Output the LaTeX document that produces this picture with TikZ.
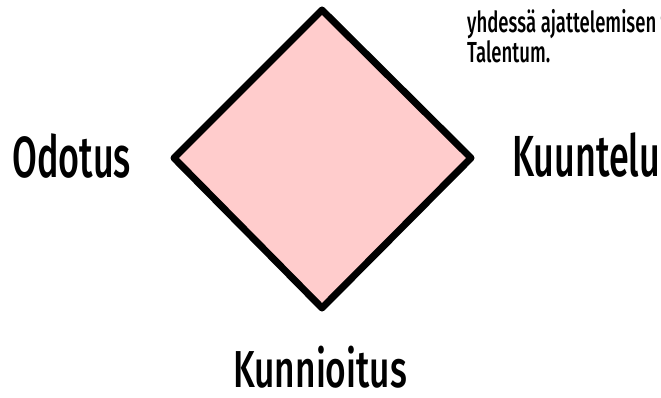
\documentclass[tikz,border=0pt]{standalone}
\usepackage{fontspec}
\setmainfont[FakeStretch=0.62]{Fira Sans Medium}
\newfontfamily\notefont[FakeStretch=0.64]{Fira Sans Medium}
\newfontfamily\lowfont[FakeStretch=0.68]{Fira Sans Medium}
\usetikzlibrary{positioning}
\definecolor{rombus}{RGB}{255,204,204}

\begin{document}
\begin{tikzpicture}[
    x=1pt, y=-1pt,
    big/.style={font=\fontsize{58}{58}\selectfont, inner sep=0pt, text depth=0pt, anchor=base west},
    low/.style={font=\lowfont\fontsize{52}{52}\selectfont, inner sep=0pt, text depth=0pt, anchor=base west},
    note/.style={font=\notefont\fontsize{29}{30}\selectfont, inner sep=0pt, anchor=base west}
  ]
  \useasboundingbox (0,0) rectangle (661,398);
  \clip (0,0) rectangle (661,398);
  % corners of the diamond
  \coordinate (top) at (322,10);
  \coordinate (right) at (471,158);
  \coordinate (bottom) at (322,308);
  \coordinate (left) at (174,158);
  \draw[line width=7pt, line join=round, fill=rombus] (top) -- (right) -- (bottom) -- (left) -- cycle;

  % labels round the diamond
  \node[big] (odotus) at (12,178) {Odotus};
  \node[big] (kuuntelu) at (512,177) {Kuuntelu};
  \node[low] (kunnioitus) at (233,387) {Kunnioitus};

  % source note, cut by the edge
  \node[note] (note1) at (467,33) {yhdessä ajattelemisen t};
  \node[note] (note2) at (467,63) {Talentum.};
\end{tikzpicture}
\end{document}
